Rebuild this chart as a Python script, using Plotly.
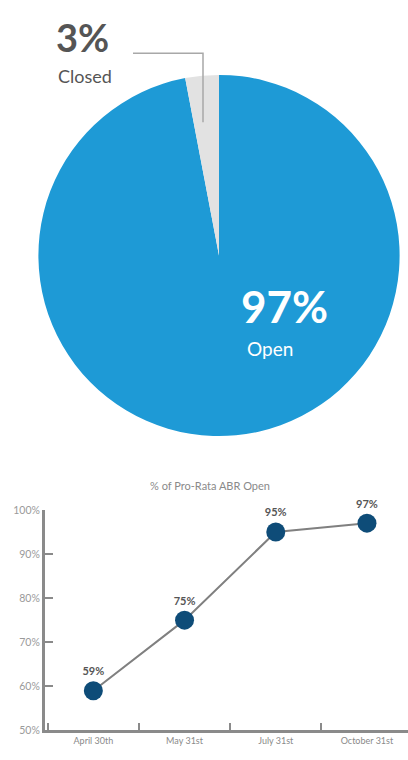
import plotly.graph_objects as go

# Pie: share of pro-rata ABR open vs closed
pie_labels = ["Open", "Closed"]
pie_values = [97, 3]
pie_colors = ["#1E9AD6", "#E2E2E2"]

# Line: % of pro-rata ABR open over time
dates = ["April 30th", "May 31st", "July 31st", "October 31st"]
pct_open = [59, 75, 95, 97]
y_ticks = [50, 60, 70, 80, 90, 100]
y_tick_text = ["50%", "60%", "70%", "80%", "90%", "100%"]

W, H = 408, 760
FONT = "Lato"

fig = go.Figure()

fig.add_trace(go.Pie(
    labels=pie_labels,
    values=pie_values,
    marker=dict(colors=pie_colors, line=dict(width=0)),
    sort=False,
    direction="clockwise",
    rotation=0,
    textinfo="none",
    hoverinfo="label+percent",
    showlegend=False,
    domain=dict(x=[35.5 / W, 402.5 / W], y=[1 - 437 / H, 1 - 70 / H]),
))

fig.add_trace(go.Scatter(
    x=dates,
    y=pct_open,
    mode="lines+markers+text",
    line=dict(color="#808080", width=2),
    marker=dict(color="#0E4C78", size=19),
    text=[f"{v}%" for v in pct_open],
    textposition="top center",
    textfont=dict(family=FONT, size=11, color="#555555", weight="bold"),
    showlegend=False,
    cliponaxis=False,
))

fig.update_layout(
    width=W,
    height=H,
    margin=dict(l=0, r=0, t=0, b=0),
    paper_bgcolor="white",
    plot_bgcolor="white",
    font=dict(family=FONT),
    xaxis=dict(
        domain=[45 / W, 1.0],
        range=[-0.53, 3.45],
        showgrid=False,
        zeroline=False,
        showline=True,
        linecolor="#8A8A8A",
        linewidth=3,
        ticks="inside",
        tickson="boundaries",
        ticklen=7,
        tickwidth=2,
        tickcolor="#8A8A8A",
        tickfont=dict(family=FONT, size=9, color="#8A8A8A"),
        fixedrange=True,
    ),
    yaxis=dict(
        domain=[1 - 736 / H, 1 - 512 / H],
        range=[50, 100],
        tickvals=y_ticks,
        ticktext=y_tick_text,
        showgrid=False,
        zeroline=False,
        showline=True,
        linecolor="#8A8A8A",
        linewidth=3,
        ticks="inside",
        ticklen=8,
        tickwidth=2,
        tickcolor="#8A8A8A",
        tickfont=dict(family=FONT, size=10.5, color="#9A9A9A"),
        fixedrange=True,
    ),
)

annotations = [
    # closed-slice callout
    dict(x=82 / W, y=1 - 32 / H, text="<b>3%</b>", font=dict(family=FONT, size=38, color="#555555")),
    dict(x=85 / W, y=1 - 71 / H, text="Closed", font=dict(family=FONT, size=18, color="#555555")),
    # open-slice label
    dict(x=284 / W, y=1 - 305 / H, text="<b>97%</b>", font=dict(family=FONT, size=44, color="white")),
    dict(x=270 / W, y=1 - 348 / H, text="Open", font=dict(family=FONT, size=19, color="white")),
    # line chart title
    dict(x=210 / W, y=1 - 487 / H, text="% of Pro-Rata ABR Open", font=dict(family=FONT, size=11, color="#8A8A8A")),
]
for a in annotations:
    a.update(xref="paper", yref="paper", showarrow=False, xanchor="center", yanchor="middle")
fig.update_layout(annotations=annotations)

# leader line from the "3%" label down into the closed slice
fig.add_shape(type="path", xref="paper", yref="paper",
              path=f"M {133 / W} {1 - 48 / H} L {203 / W} {1 - 48 / H} L {203 / W} {1 - 118 / H}",
              line=dict(color="#A8A8A8", width=1.5))

fig.write_html("out.html")
